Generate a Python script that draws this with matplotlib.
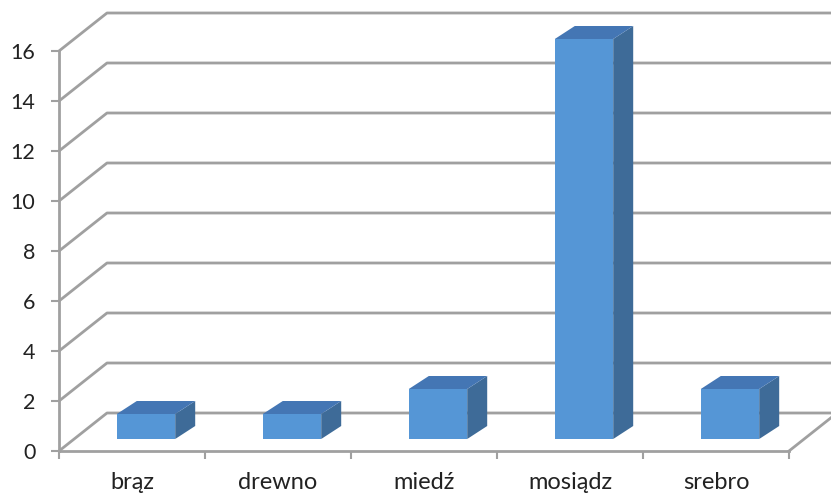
import matplotlib
matplotlib.use("Agg")
import matplotlib.pyplot as plt
from matplotlib.patches import Polygon
from matplotlib.ticker import FixedLocator, NullFormatter

plt.rcParams['font.family'] = ['Lato', 'DejaVu Sans']

categories = ['brąz', 'drewno', 'miedź', 'mosiądz', 'srebro']
values = [1, 1, 2, 16, 2]
y_ticks = [0, 2, 4, 6, 8, 10, 12, 14, 16]

W, H = 831, 494
fig = plt.figure(figsize=(W / 100, H / 100), dpi=100)
ax = fig.add_axes([59 / W, 43 / H, 730 / W, 400 / H])
n = len(categories)
ax.set_xlim(-0.5, n - 0.5)
ax.set_ylim(0, 16)

# data units per pixel, used for the oblique depth offsets
ux = n / 730.0
uy = 16 / 400.0


def shift(x, y, dxp, dyp):
    return (x + dxp * ux, y + dyp * uy)


grid_col = '#a0a0a0'
text_col = '#222222'
wall_dx, wall_dy = 48, 38

# back wall + side wall lines
for v in y_ticks:
    p0 = (-0.5, v)
    p1 = shift(-0.5, v, wall_dx, wall_dy)
    p2 = (n + 1.0, p1[1])
    ax.plot([p0[0], p1[0], p2[0]], [p0[1], p1[1], p2[1]], color=grid_col,
            lw=2, clip_on=False, solid_capstyle='butt', zorder=1)

# right edge of the floor
q0 = (n - 0.5, 0)
q1 = shift(n - 0.5, 0, wall_dx, wall_dy)
ax.plot([q0[0], q1[0]], [q0[1], q1[1]], color=grid_col, lw=2, clip_on=False, zorder=1)

# 3D columns
front_col = '#5596d6'
top_col = '#4476b4'
side_col = '#3e6b98'
bar_w = 0.4
f_dx, f_dy = 14, 12   # front face depth offset (px)
b_dx, b_dy = 34, 25   # back face depth offset (px)

for i, v in enumerate(values):
    l, r = i - bar_w / 2, i + bar_w / 2
    fl0 = shift(l, 0, f_dx, f_dy)
    fr0 = shift(r, 0, f_dx, f_dy)
    flv = shift(l, v, f_dx, f_dy)
    frv = shift(r, v, f_dx, f_dy)
    br0 = shift(r, 0, b_dx, b_dy)
    blv = shift(l, v, b_dx, b_dy)
    brv = shift(r, v, b_dx, b_dy)
    ax.add_patch(Polygon([fr0, br0, brv, frv], closed=True, fc=side_col,
                         ec='none', clip_on=False, zorder=3))
    ax.add_patch(Polygon([flv, frv, brv, blv], closed=True, fc=top_col,
                         ec='none', clip_on=False, zorder=3))
    ax.add_patch(Polygon([fl0, fr0, frv, flv], closed=True, fc=front_col,
                         ec='none', clip_on=False, zorder=4))

# axes styling
for s in ['top', 'right']:
    ax.spines[s].set_visible(False)
for s in ['left', 'bottom']:
    ax.spines[s].set_color(grid_col)
    ax.spines[s].set_linewidth(2)
    ax.spines[s].set_zorder(2)

ax.set_yticks(y_ticks)
ax.set_yticklabels([str(t) for t in y_ticks])
ax.tick_params(axis='y', direction='out', length=6, width=1.5, color=grid_col,
               pad=11, labelsize=15.5, labelcolor=text_col)

ax.set_xticks(range(n))
ax.set_xticklabels(categories)
ax.xaxis.set_minor_locator(FixedLocator([k - 0.5 for k in range(n + 1)]))
ax.xaxis.set_minor_formatter(NullFormatter())
ax.tick_params(axis='x', which='major', length=0, pad=15, labelsize=17,
               labelcolor=text_col)
ax.tick_params(axis='x', which='minor', direction='out', length=6, width=1.5,
               color=grid_col)
ax.patch.set_alpha(0)

fig.savefig('out.png', dpi=100)
